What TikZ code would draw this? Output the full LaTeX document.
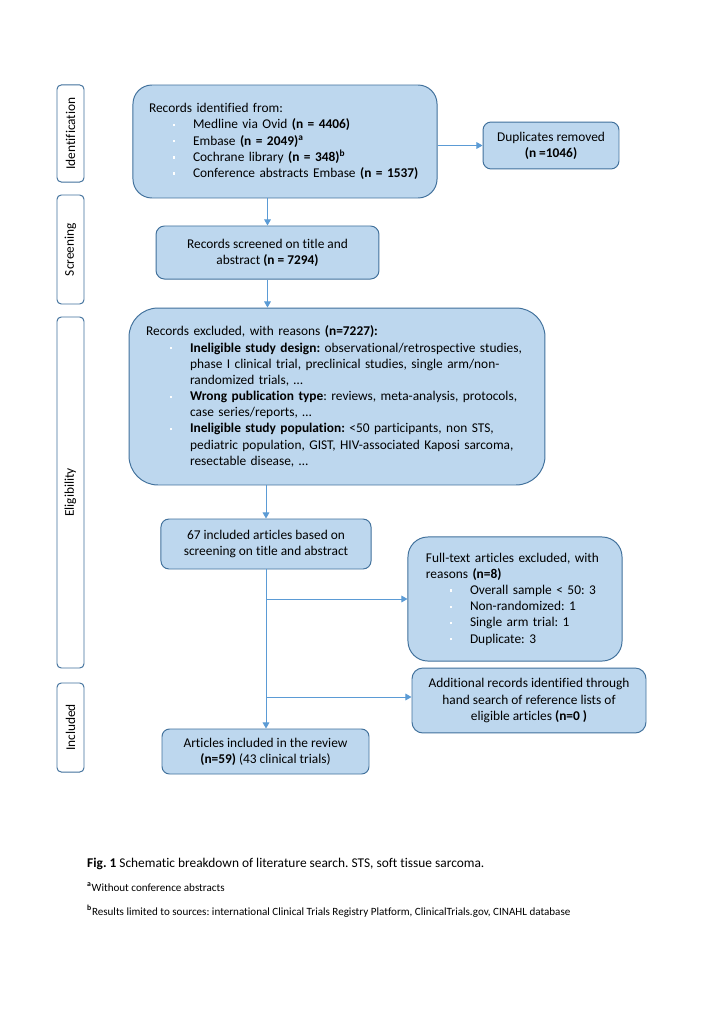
\documentclass[tikz,border=0pt]{standalone}
\usepackage{fontspec}
\setmainfont{Carlito}[Ligatures=NoCommon]
\usetikzlibrary{arrows.meta,calc}
\definecolor{boxfill}{HTML}{BDD7EE}
\definecolor{boxline}{HTML}{41719C}
\definecolor{arrowc}{HTML}{5B9BD5}
\frenchspacing
\newcommand\bsq{\textcolor{white}{\rule[2.2pt]{2pt}{2pt}}}
\newcommand\bitem[1]{\par\hangindent=36.2pt\hangafter=0\noindent\llap{\bsq\hspace{14.6pt}}#1\par}
\begin{document}
\begin{tikzpicture}[x=0.8222pt,y=-0.8222pt,
  txt/.style={font=\fontsize{11pt}{13.3pt}\selectfont\frenchspacing},
  fn/.style={font=\fontsize{9.1pt}{11pt}\selectfont\frenchspacing},
  bx/.style={draw=boxline, fill=boxfill, line width=0.8pt, txt, inner ysep=0pt},
  side/.style={draw=boxline, fill=white, line width=0.8pt, rounded corners=3.5pt, txt, rotate=90, minimum height=22.2pt, inner sep=0pt},
  arr/.style={draw=arrowc, line width=0.8pt, -{Triangle[length=5pt,width=5.5pt]}}]
\fill[white] (0,0) rectangle (724,1024);
\useasboundingbox (0,0) rectangle (724,1024);

% phase labels
\node[side, minimum width=79.8pt] (sid) at (70.5,133.5) {Identification};
\node[side, minimum width=89.6pt] (sscr) at (70.5,249.5) {Screening};
\node[side, minimum width=288.6pt] (sel) at (70.5,492.5) {Eligibility};
\node[side, minimum width=73.2pt] (sinc) at (70.5,727.5) {Included};

% boxes
\node[bx, rounded corners=15.6pt, text width=223.6pt, inner xsep=13.2pt, minimum height=92.9pt, align=left] (ident) at (285,141.5)
{\noindent Records identified from:
\bitem{Medline via Ovid \textbf{(n = 4406)}}
\bitem{Embase \textbf{(n = 2049)\textsuperscript{a}}}
\bitem{Cochrane library \textbf{(n = 348)\textsuperscript{b}}}
\bitem{Conference abstracts Embase \textbf{(n = 1537)}}};

\node[bx, rounded corners=6.6pt, minimum width=111.8pt, minimum height=38.6pt, align=center] (dup) at (551,145.5)
{Duplicates removed\\\textbf{(n =1046)}};

\node[bx, rounded corners=7pt, minimum width=183.3pt, minimum height=43.6pt, align=center] (scr) at (267.5,252.5)
{Records screened on title and\\abstract \textbf{(n = 7294)}};

\node[bx, rounded corners=23.8pt, text width=314pt, inner xsep=14pt, minimum height=145.5pt, align=left] (excl) at (337,396.5)
{\noindent Records excluded, with reasons \textbf{(n=7227):}
\bitem{\textbf{Ineligible study design:} observational/retrospective studies,\newline phase I clinical trial, preclinical studies, single arm/non-\newline randomized trials, \dots}
\bitem{\textbf{Wrong publication type}: reviews, meta-analysis, protocols,\newline case series/reports, \dots}
\bitem{\textbf{Ineligible study population:} <50 participants, non STS,\newline pediatric population, GIST, HIV-associated Kaposi sarcoma,\newline resectable disease, \dots}};

\node[bx, rounded corners=6.6pt, minimum width=172.7pt, minimum height=41.1pt, align=center] (inc) at (266,544)
{67 included articles based on\\screening on title and abstract};

\node[bx, rounded corners=16.4pt, text width=146.4pt, inner xsep=14.8pt, minimum height=102pt, align=left] (full) at (515,599)
{\noindent Full-text articles excluded, with\newline reasons \textbf{(n=8)}
\bitem{Overall sample < 50: 3}
\bitem{Non-randomized: 1}
\bitem{Single arm trial: 1}
\bitem{Duplicate: 3}};

\node[bx, rounded corners=8.9pt, minimum width=192.4pt, minimum height=53.4pt, align=center] (add) at (529,700.5)
{Additional records identified through\\hand search of reference lists of\\eligible articles \textbf{(n=0 )}};

\node[bx, rounded corners=6.2pt, minimum width=170.2pt, minimum height=37pt, align=center] (art) at (265.5,751.5)
{Articles included in the review\\\textbf{(n=59)} (43 clinical trials)};

% connectors
\draw[arr] (ident.east |- dup.west) -- (dup.west);
\draw[arr] (ident.south -| scr.north) -- (scr.north);
\draw[arr] (scr.south) -- (scr.south |- excl.north);
\draw[arr] (inc.north |- excl.south) -- (inc.north);
\draw[arr] (inc.south) -- (inc.south |- art.north);
\coordinate (b1) at (inc.south |- full.west);
\coordinate (b2) at ($(inc.south |- add.west)+(0,-3.5)$);
\draw[arr] (b1) -- (full.west);
\draw[arr] (b2) -- (add.west |- b2);

% caption
\node[anchor=base west, inner sep=0pt, txt] (cap) at (87,867)
{\textbf{Fig. 1} Schematic breakdown of literature search. STS, soft tissue sarcoma.};
\node[anchor=base west, inner sep=0pt, fn] (fna) at (87,891)
{\textsuperscript{\textbf{a}}Without conference abstracts};
\node[anchor=base west, inner sep=0pt, fn] (fnb) at (87,915)
{\textsuperscript{\textbf{b}}Results limited to sources: international Clinical Trials Registry Platform, ClinicalTrials.gov, CINAHL database};
\end{tikzpicture}
\end{document}
